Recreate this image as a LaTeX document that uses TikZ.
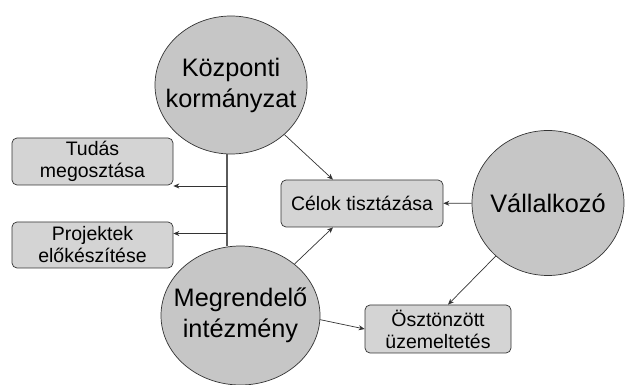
\documentclass[tikz,border=0pt]{standalone}
\usepackage{fontspec}
\setmainfont{Liberation Sans}
\usetikzlibrary{shapes.geometric,arrows.meta}
\definecolor{circfill}{HTML}{C6C6C6}
\definecolor{boxfill}{HTML}{D4D4D4}
\definecolor{edgecol}{HTML}{333333}
\definecolor{vlinecol}{HTML}{5A5A5A}
\begin{document}
\begin{tikzpicture}[x=1pt,y=-1pt,
  circ/.style={ellipse,draw=edgecol,line width=0.7pt,fill=circfill,inner sep=0pt},
  circtext/.style={inner sep=0pt,align=center,font=\fontsize{25.3}{31}\selectfont},
  box/.style={rectangle,rounded corners=5pt,draw=edgecol,line width=0.7pt,fill=boxfill,inner sep=0pt,align=center,font=\fontsize{19.5}{22}\selectfont},
  arr/.style={draw=edgecol,line width=0.7pt,-{Stealth[length=6pt,width=5pt]}},
  vline/.style={draw=vlinecol,line width=1.1pt}]
\useasboundingbox (0,0) rectangle (625,385);
\node[circ,minimum width=152pt,minimum height=138pt] (K) at (231,85) {};
\node[circtext] (Kt) at (K) {Központi\\kormányzat};
\node[circ,minimum width=159pt,minimum height=139pt] (M) at (240.5,315.5) {};
\node[circtext] (Mt) at (M) {Megrendelő\\intézmény};
\node[circ,minimum width=152pt,minimum height=145pt] (V) at (548,203) {};
\node[circtext] (Vt) at (V) {Vállalkozó};
\node[box,minimum width=161pt,minimum height=47pt] (T) at (92.5,161.5) {Tudás\\megosztása};
\node[box,minimum width=161pt,minimum height=46pt] (P) at (92.5,245) {Projektek\\előkészítése};
\node[box,minimum width=162pt,minimum height=47pt] (C) at (362,203.5) {Célok tisztázása};
\node[box,minimum width=146pt,minimum height=48pt] (O) at (438,329) {Ösztönzött\\üzemeltetés};
\coordinate (v1) at (227,186);
\coordinate (v2) at (227,233.5);
\draw[vline] (K.south -| v1) -- (M.north -| v1);
\draw[arr] (v1) -- (v1 -| T.east);
\draw[arr] (v2) -- (v2 -| P.east);
\draw[arr] (K) -- ([xshift=-29pt]C.north);
\draw[arr] (M) -- ([xshift=-29pt]C.south);
\draw[arr] (V) -- (C);
\draw[arr] (V) -- ([xshift=10pt]O.north);
\draw[arr] (M.-3) -- (O.west);
\end{tikzpicture}
\end{document}
